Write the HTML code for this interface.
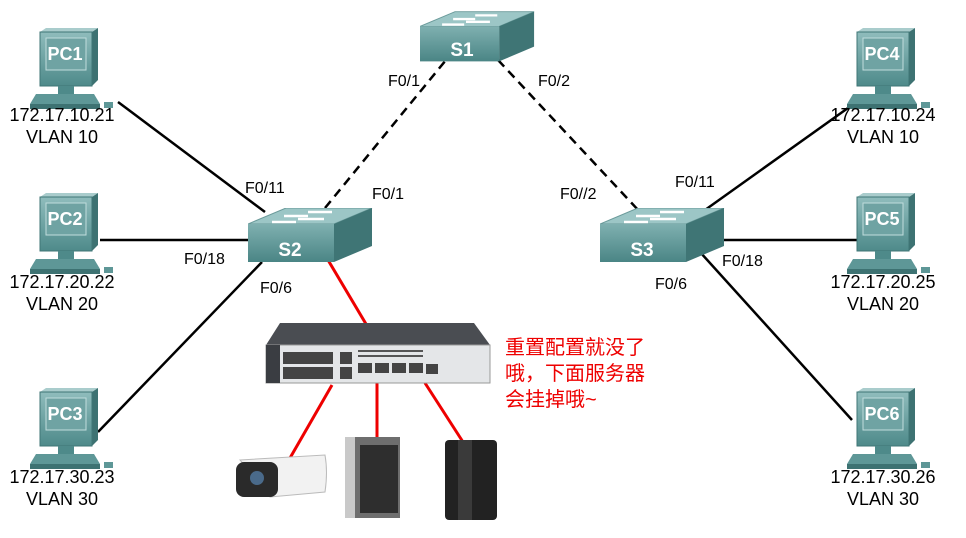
<!DOCTYPE html>
<html><head><meta charset="utf-8"><style>
body{margin:0;background:#fff;width:966px;height:538px;overflow:hidden}
svg{display:block}
text{font-family:"Liberation Sans","Noto Sans CJK SC",sans-serif}
</style></head><body>
<svg width="966" height="538" viewBox="0 0 966 538" xmlns="http://www.w3.org/2000/svg">
<defs>
<linearGradient id="gmon" x1="0" y1="0" x2="0" y2="1"><stop offset="0" stop-color="#8fbcbc"/><stop offset="1" stop-color="#4e8a8a"/></linearGradient>
<linearGradient id="gsw" x1="0" y1="0" x2="0" y2="1"><stop offset="0" stop-color="#7fb0b0"/><stop offset="1" stop-color="#4a8585"/></linearGradient>
<symbol id="pc" viewBox="0 0 90 90">
<polygon points="12,4 64,4 70,0 18,0" fill="#a9cccc"/>
<polygon points="64,4 70,0 70,52 64,58" fill="#3d7272"/>
<rect x="12" y="4" width="52" height="54" fill="url(#gmon)" stroke="#3f7676"/>
<rect x="18" y="10" width="40" height="32" fill="#6fa3a3" stroke="#c0dcdc"/>
<rect x="30" y="58" width="16" height="8" fill="#4e8a8a"/>
<polygon points="8,66 66,66 72,76 2,76" fill="#5e9797"/>
<rect x="2" y="76" width="70" height="5" fill="#3d7272"/>
<rect x="76" y="74" width="9" height="6" fill="#5e9797"/>
</symbol>
<symbol id="swsym" viewBox="0 0 125 55">
<polygon points="0,16 86,16 124,0 38,0" fill="#9cc6c6" stroke="#6a9a9a"/>
<polygon points="86,16 124,0 124,38 86,54" fill="#3f7575"/>
<rect x="0" y="16" width="86" height="38" fill="url(#gsw)"/>
<g stroke="#fff" stroke-width="2.5"><line x1="60" y1="4" x2="84" y2="4"/><line x1="36" y1="8" x2="60" y2="8"/><line x1="50" y1="11" x2="76" y2="11"/><line x1="24" y1="14" x2="48" y2="14"/></g>
</symbol>
</defs>
<g stroke="#000" stroke-width="2.5">
<line x1="118" y1="102" x2="265" y2="212"/>
<line x1="100" y1="240" x2="250" y2="240"/>
<line x1="98" y1="432" x2="262" y2="262"/>
<line x1="705" y1="210" x2="848" y2="108"/>
<line x1="705" y1="240" x2="862" y2="240"/>
<line x1="700" y1="252" x2="852" y2="420"/>
</g>
<g stroke="#000" stroke-width="2.5" stroke-dasharray="9,6">
<line x1="325" y1="208" x2="446" y2="60"/>
<line x1="498" y1="60" x2="640" y2="212"/>
</g>
<g stroke="#e00" stroke-width="3">
<line x1="328" y1="260" x2="366" y2="324"/>
<line x1="332" y1="385" x2="290" y2="458"/>
<line x1="377" y1="383" x2="377" y2="438"/>
<line x1="425" y1="383" x2="463" y2="442"/>
</g>
<use href="#swsym" x="420" y="10" width="115" height="54"/>
<text x="462" y="56" font-size="19" font-weight="bold" fill="#fff" text-anchor="middle">S1</text>
<use href="#swsym" x="248" y="208" width="125" height="55"/>
<text x="290" y="256" font-size="19" font-weight="bold" fill="#fff" text-anchor="middle">S2</text>
<use href="#swsym" x="600" y="208" width="125" height="55"/>
<text x="642" y="256" font-size="19" font-weight="bold" fill="#fff" text-anchor="middle">S3</text>
<g font-size="18" font-weight="bold" fill="#fff" text-anchor="middle">
<use href="#pc" x="28" y="28" width="90" height="90"/><text x="65" y="60">PC1</text>
<use href="#pc" x="28" y="193" width="90" height="90"/><text x="65" y="225">PC2</text>
<use href="#pc" x="28" y="388" width="90" height="90"/><text x="65" y="420">PC3</text>
<use href="#pc" x="845" y="28" width="90" height="90"/><text x="882" y="60">PC4</text>
<use href="#pc" x="845" y="193" width="90" height="90"/><text x="882" y="225">PC5</text>
<use href="#pc" x="845" y="388" width="90" height="90"/><text x="882" y="420">PC6</text>
</g>
<g font-size="18" fill="#000" text-anchor="middle">
<text x="62" y="121">172.17.10.21</text><text x="62" y="143">VLAN 10</text>
<text x="62" y="288">172.17.20.22</text><text x="62" y="310">VLAN 20</text>
<text x="62" y="483">172.17.30.23</text><text x="62" y="505">VLAN 30</text>
<text x="883" y="121">172.17.10.24</text><text x="883" y="143">VLAN 10</text>
<text x="883" y="288">172.17.20.25</text><text x="883" y="310">VLAN 20</text>
<text x="883" y="483">172.17.30.26</text><text x="883" y="505">VLAN 30</text>
</g>
<g font-size="16" fill="#000">
<text x="388" y="86">F0/1</text><text x="538" y="86">F0/2</text>
<text x="245" y="193">F0/11</text><text x="372" y="199">F0/1</text>
<text x="184" y="264">F0/18</text><text x="260" y="293">F0/6</text>
<text x="560" y="199">F0//2</text><text x="675" y="187">F0/11</text>
<text x="722" y="266">F0/18</text><text x="655" y="289">F0/6</text>
</g>
<polygon points="280,323 474,323 490,345 266,345" fill="#4a4d52"/>
<rect x="266" y="345" width="224" height="38" fill="#e4e6e8" stroke="#999"/>
<rect x="266" y="345" width="14" height="38" fill="#3a3d42"/>
<g fill="#444"><rect x="283" y="352" width="50" height="12"/><rect x="283" y="367" width="50" height="12"/><rect x="340" y="352" width="12" height="12"/><rect x="340" y="367" width="12" height="12"/>
<rect x="358" y="363" width="14" height="10"/><rect x="375" y="363" width="14" height="10"/><rect x="392" y="363" width="14" height="10"/><rect x="409" y="363" width="14" height="10"/><rect x="426" y="364" width="12" height="10"/></g>
<g fill="#555"><rect x="358" y="350" width="65" height="2"/><rect x="358" y="355" width="65" height="2"/></g>
<path d="M240,460 L325,455 Q328,472 325,492 L270,497 Z" fill="#f2f2f2" stroke="#bbb"/>
<rect x="236" y="462" width="42" height="35" rx="8" fill="#2a2a2a"/>
<circle cx="257" cy="478" r="7" fill="#4a6a8a"/>
<rect x="345" y="437" width="55" height="81" fill="#6e6e6e"/>
<rect x="345" y="437" width="10" height="81" fill="#c9c9c9"/>
<rect x="360" y="445" width="38" height="68" fill="#2e2e2e"/>
<rect x="445" y="440" width="52" height="80" rx="4" fill="#222"/>
<rect x="458" y="440" width="14" height="80" fill="#3a3a3a"/>
<g font-size="20" fill="#e00"><text x="505" y="354">重置配置就没了</text><text x="505" y="380">哦，下面服务器</text><text x="505" y="406">会挂掉哦~</text></g>
</svg>
</body></html>
